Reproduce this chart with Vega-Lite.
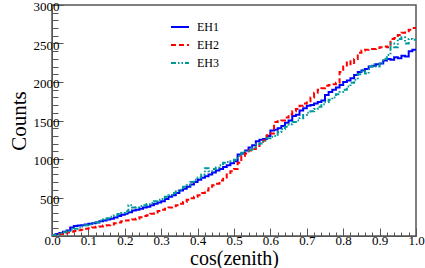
{
  "$schema": "https://vega.github.io/schema/vega-lite/v6.json",
  "width": 364,
  "height": 231,
  "autosize": {"type": "none"},
  "padding": {"left": 52, "top": 5, "right": 9, "bottom": 32},
  "background": "white",
  "config": {
    "view": {"stroke": "#555", "strokeWidth": 1.5},
    "axis": {"labelColor": "black", "titleColor": "black", "domainColor": "#555", "tickColor": "#555", "grid": false, "titleFontWeight": "normal"}
  },
  "data": {"values": [
    {"c":0.00,"EH1":10,"EH2":5,"EH3":10},{"c":0.01,"EH1":25,"EH2":15,"EH3":20},{"c":0.02,"EH1":40,"EH2":25,"EH3":35},{"c":0.03,"EH1":55,"EH2":35,"EH3":50},{"c":0.04,"EH1":70,"EH2":45,"EH3":65},
    {"c":0.05,"EH1":110,"EH2":55,"EH3":80},{"c":0.06,"EH1":130,"EH2":65,"EH3":95},{"c":0.07,"EH1":135,"EH2":75,"EH3":110},{"c":0.08,"EH1":140,"EH2":80,"EH3":125},{"c":0.09,"EH1":150,"EH2":95,"EH3":140},
    {"c":0.10,"EH1":160,"EH2":100,"EH3":150},{"c":0.11,"EH1":165,"EH2":110,"EH3":165},{"c":0.12,"EH1":175,"EH2":120,"EH3":180},{"c":0.13,"EH1":190,"EH2":125,"EH3":200},{"c":0.14,"EH1":200,"EH2":135,"EH3":215},
    {"c":0.15,"EH1":215,"EH2":140,"EH3":230},{"c":0.16,"EH1":225,"EH2":150,"EH3":250},{"c":0.17,"EH1":240,"EH2":165,"EH3":265},{"c":0.18,"EH1":260,"EH2":175,"EH3":285},{"c":0.19,"EH1":275,"EH2":190,"EH3":300},
    {"c":0.20,"EH1":290,"EH2":200,"EH3":320},{"c":0.21,"EH1":310,"EH2":205,"EH3":400},{"c":0.22,"EH1":330,"EH2":215,"EH3":370},{"c":0.23,"EH1":340,"EH2":225,"EH3":375},{"c":0.24,"EH1":355,"EH2":245,"EH3":390},
    {"c":0.25,"EH1":370,"EH2":260,"EH3":400},{"c":0.26,"EH1":380,"EH2":270,"EH3":415},{"c":0.27,"EH1":400,"EH2":290,"EH3":430},{"c":0.28,"EH1":420,"EH2":305,"EH3":450},{"c":0.29,"EH1":435,"EH2":325,"EH3":470},
    {"c":0.30,"EH1":450,"EH2":340,"EH3":480},{"c":0.31,"EH1":480,"EH2":355,"EH3":510},{"c":0.32,"EH1":510,"EH2":370,"EH3":530},{"c":0.33,"EH1":530,"EH2":385,"EH3":560},{"c":0.34,"EH1":560,"EH2":400,"EH3":590},
    {"c":0.35,"EH1":590,"EH2":420,"EH3":600},{"c":0.36,"EH1":615,"EH2":440,"EH3":640},{"c":0.37,"EH1":640,"EH2":470,"EH3":660},{"c":0.38,"EH1":670,"EH2":490,"EH3":700},{"c":0.39,"EH1":700,"EH2":510,"EH3":730},
    {"c":0.40,"EH1":730,"EH2":530,"EH3":760},{"c":0.41,"EH1":755,"EH2":560,"EH3":800},{"c":0.42,"EH1":775,"EH2":590,"EH3":880},{"c":0.43,"EH1":800,"EH2":640,"EH3":840},{"c":0.44,"EH1":825,"EH2":660,"EH3":870},
    {"c":0.45,"EH1":850,"EH2":680,"EH3":890},{"c":0.46,"EH1":870,"EH2":720,"EH3":920},{"c":0.47,"EH1":895,"EH2":760,"EH3":950},{"c":0.48,"EH1":920,"EH2":800,"EH3":960},{"c":0.49,"EH1":945,"EH2":840,"EH3":970},
    {"c":0.50,"EH1":970,"EH2":870,"EH3":990},{"c":0.51,"EH1":1060,"EH2":950,"EH3":1040},{"c":0.52,"EH1":1070,"EH2":1040,"EH3":1080},{"c":0.53,"EH1":1110,"EH2":1070,"EH3":1100},{"c":0.54,"EH1":1150,"EH2":1110,"EH3":1120},
    {"c":0.55,"EH1":1180,"EH2":1130,"EH3":1150},{"c":0.56,"EH1":1230,"EH2":1170,"EH3":1190},{"c":0.57,"EH1":1250,"EH2":1200,"EH3":1200},{"c":0.58,"EH1":1260,"EH2":1240,"EH3":1240},{"c":0.59,"EH1":1300,"EH2":1310,"EH3":1270},
    {"c":0.60,"EH1":1370,"EH2":1330,"EH3":1290},{"c":0.61,"EH1":1380,"EH2":1480,"EH3":1300},{"c":0.62,"EH1":1400,"EH2":1490,"EH3":1350},{"c":0.63,"EH1":1430,"EH2":1500,"EH3":1390},{"c":0.64,"EH1":1470,"EH2":1540,"EH3":1420},
    {"c":0.65,"EH1":1500,"EH2":1580,"EH3":1450},{"c":0.66,"EH1":1560,"EH2":1620,"EH3":1480},{"c":0.67,"EH1":1575,"EH2":1650,"EH3":1500},{"c":0.68,"EH1":1630,"EH2":1690,"EH3":1530},{"c":0.69,"EH1":1660,"EH2":1720,"EH3":1570},
    {"c":0.70,"EH1":1690,"EH2":1750,"EH3":1600},{"c":0.71,"EH1":1700,"EH2":1800,"EH3":1620},{"c":0.72,"EH1":1720,"EH2":1860,"EH3":1650},{"c":0.73,"EH1":1740,"EH2":1900,"EH3":1680},{"c":0.74,"EH1":1760,"EH2":1920,"EH3":1710},
    {"c":0.75,"EH1":1830,"EH2":1950,"EH3":1740},{"c":0.76,"EH1":1870,"EH2":1960,"EH3":1770},{"c":0.77,"EH1":1900,"EH2":1970,"EH3":1800},{"c":0.78,"EH1":1930,"EH2":1990,"EH3":1840},{"c":0.79,"EH1":1960,"EH2":2130,"EH3":1870},
    {"c":0.80,"EH1":2000,"EH2":2200,"EH3":1900},{"c":0.81,"EH1":2020,"EH2":2270,"EH3":1940},{"c":0.82,"EH1":2050,"EH2":2230,"EH3":1990},{"c":0.83,"EH1":2090,"EH2":2300,"EH3":2030},{"c":0.84,"EH1":2130,"EH2":2380,"EH3":2100},
    {"c":0.85,"EH1":2150,"EH2":2410,"EH3":2160},{"c":0.86,"EH1":2170,"EH2":2420,"EH3":2110},{"c":0.87,"EH1":2200,"EH2":2430,"EH3":2200},{"c":0.88,"EH1":2210,"EH2":2430,"EH3":2230},{"c":0.89,"EH1":2230,"EH2":2440,"EH3":2200},
    {"c":0.90,"EH1":2240,"EH2":2450,"EH3":2250},{"c":0.91,"EH1":2280,"EH2":2460,"EH3":2300},{"c":0.92,"EH1":2300,"EH2":2450,"EH3":2350},{"c":0.93,"EH1":2290,"EH2":2560,"EH3":2500},{"c":0.94,"EH1":2320,"EH2":2570,"EH3":2450},
    {"c":0.95,"EH1":2310,"EH2":2610,"EH3":2560},{"c":0.96,"EH1":2340,"EH2":2640,"EH3":2580},{"c":0.97,"EH1":2330,"EH2":2660,"EH3":2500},{"c":0.98,"EH1":2400,"EH2":2680,"EH3":2560},{"c":0.99,"EH1":2420,"EH2":2700,"EH3":2550},
    {"c":1.00,"EH1":2420,"EH2":2700,"EH3":2550}
  ]},
  "transform": [{"fold": ["EH1", "EH2", "EH3"], "as": ["series", "counts"]}],
  "resolve": {"axis": {"x": "independent", "y": "independent"}},
  "layer": [
    {
      "mark": {"type": "line", "opacity": 0},
      "encoding": {
        "x": {"field": "c", "type": "quantitative", "scale": {"domain": [0, 1], "nice": false},
              "axis": {"orient": "bottom", "values": [0.02,0.04,0.06,0.08,0.12,0.14,0.16,0.18,0.22,0.24,0.26,0.28,0.32,0.34,0.36,0.38,0.42,0.44,0.46,0.48,0.52,0.54,0.56,0.58,0.62,0.64,0.66,0.68,0.72,0.74,0.76,0.78,0.82,0.84,0.86,0.88,0.92,0.94,0.96,0.98], "labels": false, "domain": false, "title": null, "tickSize": -4}},
        "y": {"field": "counts", "type": "quantitative", "scale": {"domain": [0, 3000], "nice": false},
              "axis": {"orient": "left", "values": [100,200,300,400,600,700,800,900,1100,1200,1300,1400,1600,1700,1800,1900,2100,2200,2300,2400,2600,2700,2800,2900], "labels": false, "domain": false, "title": null, "tickSize": -6}},
        "detail": {"field": "series"}
      }
    },
    {
      "mark": {"type": "line", "interpolate": "step-after", "strokeWidth": 2},
      "encoding": {
        "x": {"field": "c", "type": "quantitative",
              "axis": {"orient": "bottom", "values": [0,0.1,0.2,0.3,0.4,0.5,0.6,0.7,0.8,0.9,1.0], "format": ".1f", "tickSize": -8, "labelFont": "Liberation Serif, Times New Roman, serif", "labelFontSize": 13, "labelPadding": 6, "title": "cos(zenith)", "titleFont": "Liberation Serif, Times New Roman, serif", "titleFontSize": 20, "titlePadding": 1, "labelFlush": false}},
        "y": {"field": "counts", "type": "quantitative",
              "axis": {"orient": "left", "values": [0,500,1000,1500,2000,2500,3000], "format": "d", "labelExpr": "datum.value == 0 ? '' : datum.label", "tickSize": -11, "labelFont": "Liberation Serif, Times New Roman, serif", "labelFontSize": 13, "labelPadding": 4, "labelOffset": 1.5, "title": "Counts", "titleFont": "Liberation Serif, Times New Roman, serif", "titleFontSize": 21, "titlePadding": 4, "labelFlush": false}},
        "color": {"field": "series", "type": "nominal", "scale": {"domain": ["EH1","EH2","EH3"], "range": ["#0000ff", "#ff0000", "#009999"]},
                  "legend": {"orient": "none", "legendX": 118, "legendY": 12, "title": null, "symbolType": "stroke", "symbolSize": 324, "symbolStrokeWidth": 2, "labelFont": "Liberation Serif, Times New Roman, serif", "labelFontSize": 12, "labelColor": "black", "rowPadding": 2, "labelOffset": 7}},
        "strokeDash": {"field": "series", "type": "nominal", "scale": {"domain": ["EH1","EH2","EH3"], "range": [[1,0],[5,3],[5,2,1.5,2,1.5,2]]}, "legend": {"orient": "none", "legendX": 118, "legendY": 12, "title": null, "symbolType": "stroke", "symbolSize": 324, "symbolStrokeWidth": 2, "labelFont": "Liberation Serif, Times New Roman, serif", "labelFontSize": 12, "labelColor": "black", "rowPadding": 2, "labelOffset": 7}}
      }
    }
  ]
}
